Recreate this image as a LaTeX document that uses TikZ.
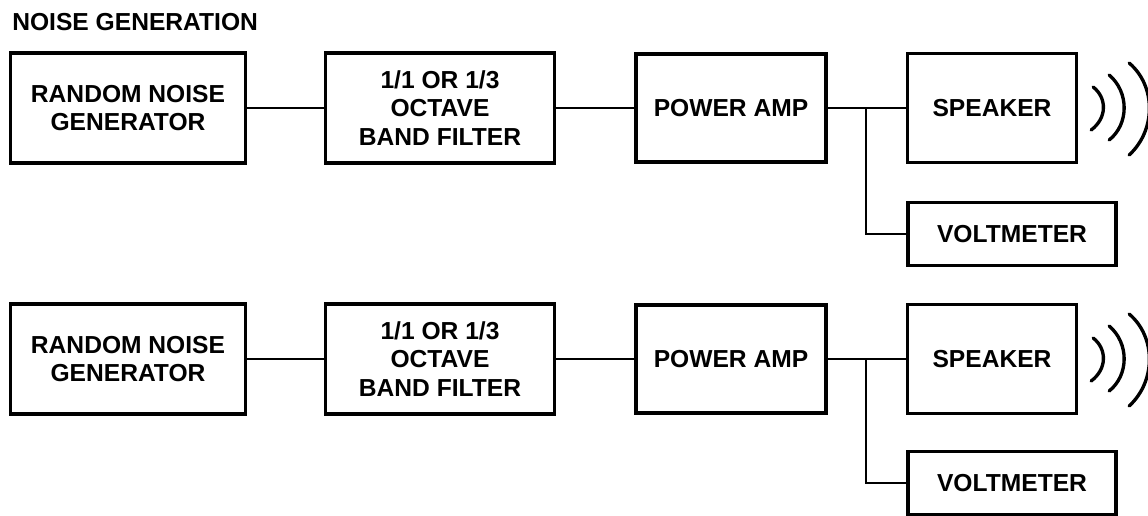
\documentclass[tikz,border=0pt]{standalone}
\usepackage{fontspec}
\setmainfont{Liberation Sans}

\begin{document}
\begin{tikzpicture}[
    x=0.02cm, y=-0.02cm,
    box_style/.style={draw, rectangle, line width=1.9pt, align=center, inner sep=0pt, font=\fontsize{14}{16}\selectfont\bfseries},
    wire_style/.style={line width=1.6pt},
    wave_style/.style={line width=1.9pt, line cap=round}
]

    \useasboundingbox (0,0) rectangle (1148,515);

    % Title
    \node[anchor=north west, inner sep=0pt, font=\fontsize{14}{16}\selectfont\bfseries] (title) at (12,13) {NOISE GENERATION};

    % Upper chain
    \node[box_style, minimum width=4.7cm, minimum height=2.2cm] (gen_1) at (128,108) {RANDOM NOISE\\GENERATOR};
    \node[box_style, minimum width=4.58cm, minimum height=2.2cm] (filt_1) at (440,108) {1/1 OR 1/3\\OCTAVE\\BAND FILTER};
    \node[box_style, minimum width=3.8cm, minimum height=2.16cm] (amp_1) at (731,108) {POWER AMP};
    \node[box_style, minimum width=3.38cm, minimum height=2.18cm] (spk_1) at (992,108) {SPEAKER};
    \node[box_style, minimum width=4.16cm, minimum height=1.26cm] (volt_1) at (1012,234) {VOLTMETER};
    \coordinate (jct_1) at (866,108);

    \draw[wire_style] (gen_1) -- (filt_1);
    \draw[wire_style] (filt_1) -- (amp_1);
    \draw[wire_style] (amp_1) -- (spk_1);
    \draw[wire_style] (jct_1) |- (volt_1.west);

    % Lower chain
    \node[box_style, minimum width=4.7cm, minimum height=2.2cm] (gen_2) at (128,359) {RANDOM NOISE\\GENERATOR};
    \node[box_style, minimum width=4.58cm, minimum height=2.2cm] (filt_2) at (440,359) {1/1 OR 1/3\\OCTAVE\\BAND FILTER};
    \node[box_style, minimum width=3.8cm, minimum height=2.16cm] (amp_2) at (731,359) {POWER AMP};
    \node[box_style, minimum width=3.38cm, minimum height=2.18cm] (spk_2) at (992,359) {SPEAKER};
    \node[box_style, minimum width=4.16cm, minimum height=1.26cm] (volt_2) at (1012,483) {VOLTMETER};
    \coordinate (jct_2) at (866,359);

    \draw[wire_style] (gen_2) -- (filt_2);
    \draw[wire_style] (filt_2) -- (amp_2);
    \draw[wire_style] (amp_2) -- (spk_2);
    \draw[wire_style] (jct_2) |- (volt_2.west);

    % Sound waves
    \begin{scope}[shift={(spk_1.east)}]
        \draw[wave_style] (15,-21) .. controls (29,-10) and (29,10) .. (13,22);
        \draw[wave_style] (31,-33) .. controls (51,-16) and (51,16) .. (31,32);
        \draw[wave_style] (51,-45) .. controls (78,-22) and (78,22) .. (51,47);
    \end{scope}
    \begin{scope}[shift={(spk_2.east)}]
        \draw[wave_style] (15,-21) .. controls (29,-10) and (29,10) .. (13,22);
        \draw[wave_style] (31,-33) .. controls (51,-16) and (51,16) .. (31,32);
        \draw[wave_style] (51,-45) .. controls (78,-22) and (78,22) .. (51,47);
    \end{scope}

\end{tikzpicture}
\end{document}
